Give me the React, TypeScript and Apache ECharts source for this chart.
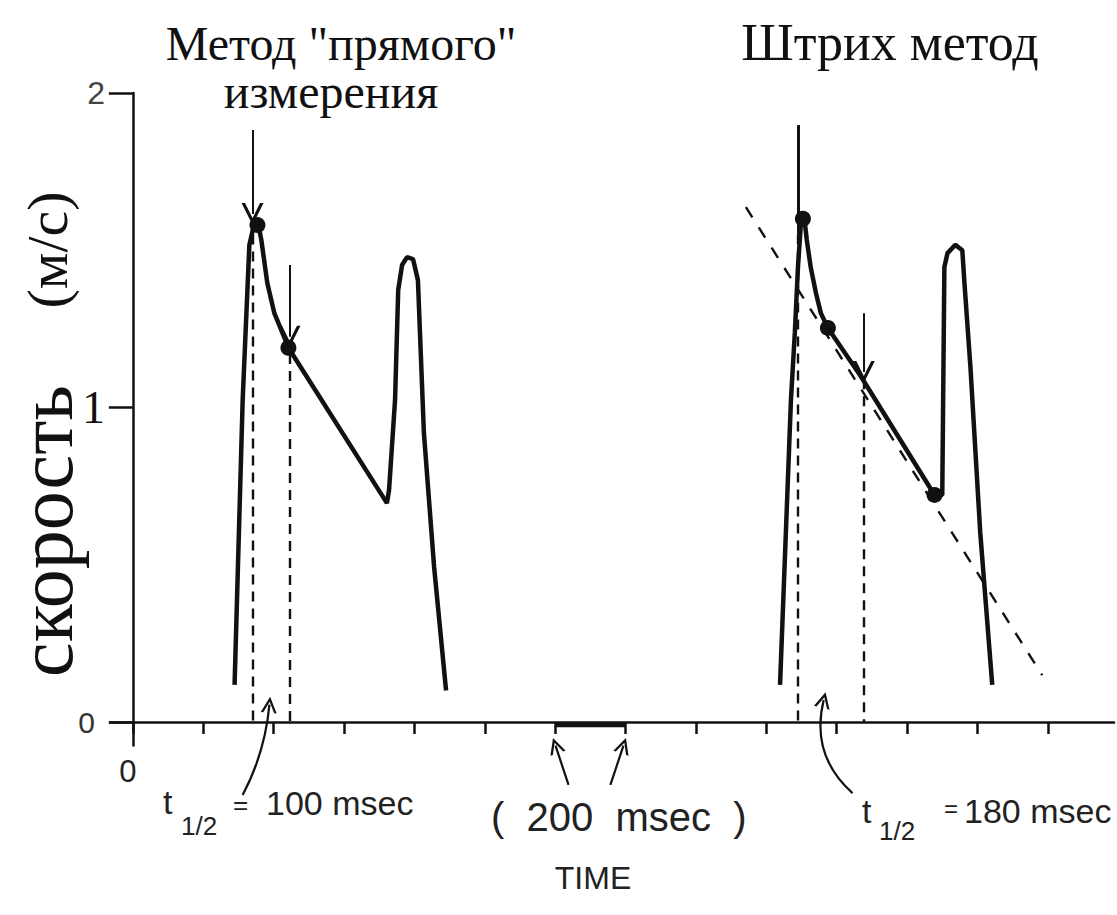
import React, { useEffect, useRef } from "react";
import * as echarts from "echarts";

// ---- data (time in msec, velocity in m/s) ----
const leftTime = [289, 312, 331, 346, 354, 365, 382, 402, 425, 442, 722, 728, 745, 754, 765, 779, 796, 810, 827, 856, 890];
const leftVel = [0.118, 1.024, 1.517, 1.59, 1.596, 1.533, 1.396, 1.3, 1.237, 1.19, 0.696, 0.738, 1.024, 1.374, 1.453, 1.478, 1.472, 1.405, 0.919, 0.493, 0.1];

const rightTime = [1839, 1870, 1881, 1890, 1898, 1907, 1915, 1926, 1941, 1955, 1975, 2068, 2278, 2300, 2306, 2315, 2337, 2357, 2363, 2380, 2408, 2442];
const rightVel = [0.118, 1.024, 1.237, 1.447, 1.58, 1.612, 1.533, 1.447, 1.364, 1.3, 1.253, 1.1, 0.722, 0.722, 1.447, 1.491, 1.517, 1.5, 1.396, 1.129, 0.601, 0.118];

const dotTime = [354, 442, 1904, 1975, 2278];
const dotVel = [1.58, 1.19, 1.6, 1.253, 0.722];

// tangent (dashed) line of the "Штрих" method
const tangentTime = [1742, 2584];
const tangentVel = [1.637, 0.149];

// measurement verticals (dashed)
const dashTime = [340, 445, 1890, 2077];
const dashTop = [1.55, 1.17, 1.55, 1.09];

// pointer arrows above the curves
const arrowTime = [340, 445, 2077];
const arrowFrom = [1.882, 1.453, 1.3];
const arrowTo = [1.615, 1.225, 1.113];

// solid marker line (right peak)
const markerTime = [1890];
const markerFrom = [1.898];
const markerTo = [1.55];

// 200 msec scale bar
const scaleBar = [1200, 1400];

const xTicks = [0, 200, 400, 600, 800, 1000, 1200, 1400, 1600, 1800, 2000, 2200, 2400, 2600];
const xLabelValues = [0];
const yTicks = [0, 1, 2];

// annotation arrows below the axis
const lowerArrows = [
  { from: [312, -0.232], to: [388, 0.055], curve: -0.1 },
  { from: [1238, -0.2], to: [1201, -0.075], curve: 0 },
  { from: [1357, -0.2], to: [1394, -0.075], curve: 0 },
  { from: [2045, -0.226], to: [1963, 0.07], curve: 0.3 },
];

const INK = "#111";
const vArrow = "path://M0,12 L5,0 L10,12 L8.4,12 L5,3.8 L1.6,12 Z";

export default function App() {
  const ref = useRef<HTMLDivElement>(null);

  useEffect(() => {
    if (!ref.current) return;
    const chart = echarts.init(ref.current, undefined, { renderer: "svg" });

    const left = leftTime.map((t, i) => [t, leftVel[i]]);
    const right = rightTime.map((t, i) => [t, rightVel[i]]);
    const dots = dotTime.map((t, i) => [t, dotVel[i]]);
    const tangent = tangentTime.map((t, i) => [t, tangentVel[i]]);

    const dashData = dashTime.map((t, i) => ({ coords: [[t, dashTop[i]], [t, 0]] }));
    const arrowData = arrowTime.map((t, i) => ({ coords: [[t, arrowFrom[i]], [t, arrowTo[i]]] }));
    const markerData = markerTime.map((t, i) => ({ coords: [[t, markerFrom[i]], [t, markerTo[i]]] }));
    const lowerData = lowerArrows.map((a) => ({ coords: [a.from, a.to], lineStyle: { curveness: a.curve } }));

    const serif = "Liberation Serif";
    const sans = "Liberation Sans";

    const option: any = {
      animation: false,
      backgroundColor: "#fff",
      grid: { left: 110, right: 0, top: 93, bottom: 169.4, containLabel: false },
      xAxis: {
        type: "value",
        min: -65,
        max: 2788,
        axisLine: { onZero: true, lineStyle: { color: INK, width: 2.5 } },
        axisTick: { show: true, customValues: xTicks, length: 12, lineStyle: { color: INK, width: 2.5 } },
        axisLabel: {
          show: true,
          margin: 10,
          fontSize: 31,
          formatter: (v: any) => (xLabelValues.includes(Number(v)) ? "{o|" + Number(v) + "}" : ""),
          rich: { o: { fontSize: 31, fontFamily: sans, color: "#222", padding: [0, 10, 0, 0] } },
        },
        splitLine: { show: false },
      },
      yAxis: {
        type: "value",
        min: -0.075,
        max: 2,
        axisLine: { show: true, onZero: true, lineStyle: { color: INK, width: 2.5 } },
        axisTick: { show: true, customValues: yTicks, length: 24, lineStyle: { color: INK, width: 2.5 } },
        axisLabel: {
          show: true,
          margin: 5,
          fontSize: 31,
          formatter: (v: any) => {
            const n = Number(v);
            if (n === 2) return "{s|2}";
            if (n === 1) return "{b|1}";
            if (n === 0) return "{o|0}";
            return "";
          },
          rich: {
            s: { fontSize: 32, fontFamily: sans, color: "#444" },
            b: { fontSize: 46, fontFamily: serif, color: "#111" },
            o: { fontSize: 30, fontFamily: sans, color: "#333", padding: [0, 10, 0, 0] },
          },
        },
        splitLine: { show: false },
      },
      series: [
        { type: "line", data: left, showSymbol: false, clip: false, lineStyle: { color: INK, width: 4.5 }, z: 5 },
        { type: "line", data: right, showSymbol: false, clip: false, lineStyle: { color: INK, width: 4.5 }, z: 5 },
        { type: "scatter", data: dots, symbolSize: 16, itemStyle: { color: INK, opacity: 1 }, z: 6 },
        { type: "line", data: tangent, showSymbol: false, clip: false, lineStyle: { color: INK, width: 2.4, type: [12, 12] }, z: 4 },
        {
          type: "lines",
          coordinateSystem: "cartesian2d",
          clip: false,
          data: dashData,
          symbol: "none",
          lineStyle: { color: INK, width: 2.4, type: [10, 7], opacity: 1 },
          z: 3,
        },
        {
          type: "lines",
          coordinateSystem: "cartesian2d",
          clip: false,
          data: arrowData,
          symbol: ["none", vArrow],
          symbolSize: [15, 22],
          lineStyle: { color: INK, width: 2, opacity: 1 },
          z: 4,
        },
        {
          type: "lines",
          coordinateSystem: "cartesian2d",
          clip: false,
          data: markerData,
          symbol: "none",
          lineStyle: { color: INK, width: 3, opacity: 1 },
          z: 4,
        },
        {
          type: "lines",
          coordinateSystem: "cartesian2d",
          clip: false,
          data: lowerData,
          symbol: ["none", vArrow],
          symbolSize: [12, 16],
          lineStyle: { color: INK, width: 2.2, opacity: 1 },
          z: 4,
        },
        {
          type: "line",
          data: scaleBar.map((t) => [t, -0.009]),
          showSymbol: false,
          clip: false,
          lineStyle: { color: INK, width: 5 },
          z: 4,
        },
      ],
      graphic: [
        { type: "text", x: 341, y: 43, style: { text: 'Метод "прямого"', font: `48px ${serif}`, fill: INK, align: "center", verticalAlign: "middle" } },
        { type: "text", x: 331, y: 91, style: { text: "измерения", font: `48px ${serif}`, fill: INK, align: "center", verticalAlign: "middle" } },
        { type: "text", x: 890, y: 42, style: { text: "Штрих метод", font: `52px ${serif}`, fill: INK, align: "center", verticalAlign: "middle" } },
        { type: "text", x: 45, y: 531, rotation: Math.PI / 2, style: { text: "скорость", font: `78px ${serif}`, fill: INK, align: "center", verticalAlign: "middle" } },
        { type: "text", x: 47, y: 250, rotation: Math.PI / 2, style: { text: "(м/с)", font: `58px ${serif}`, fill: INK, align: "center", verticalAlign: "middle" } },

        { type: "text", x: 163, y: 802, style: { text: "t", font: `34px ${sans}`, fill: "#222", align: "left", verticalAlign: "middle" } },
        { type: "text", x: 181, y: 826, style: { text: "1/2", font: `26px ${sans}`, fill: "#222", align: "left", verticalAlign: "middle" } },
        { type: "text", x: 233, y: 805, style: { text: "=", font: `26px ${sans}`, fill: "#222", align: "left", verticalAlign: "middle" } },
        { type: "text", x: 266, y: 803, style: { text: "100 msec", font: `34px ${sans}`, fill: "#222", align: "left", verticalAlign: "middle" } },

        { type: "text", x: 491, y: 817, style: { text: "(  200  msec  )", font: `40px ${sans}`, fill: "#222", align: "left", verticalAlign: "middle" } },
        { type: "text", x: 593, y: 878, style: { text: "TIME", font: `32px ${sans}`, fill: "#222", align: "center", verticalAlign: "middle" } },

        { type: "text", x: 862, y: 811, style: { text: "t", font: `34px ${sans}`, fill: "#222", align: "left", verticalAlign: "middle" } },
        { type: "text", x: 879, y: 831, style: { text: "1/2", font: `26px ${sans}`, fill: "#222", align: "left", verticalAlign: "middle" } },
        { type: "text", x: 944, y: 808, style: { text: "=", font: `24px ${sans}`, fill: "#222", align: "left", verticalAlign: "middle" } },
        { type: "text", x: 964, y: 811, style: { text: "180 msec", font: `34px ${sans}`, fill: "#222", align: "left", verticalAlign: "middle" } },
      ],
    };

    chart.setOption(option);
    return () => chart.dispose();
  }, []);

  return <div ref={ref} style={{ position: "absolute", left: 0, top: 0, width: 1117, height: 915, background: "#fff" }} />;
}
